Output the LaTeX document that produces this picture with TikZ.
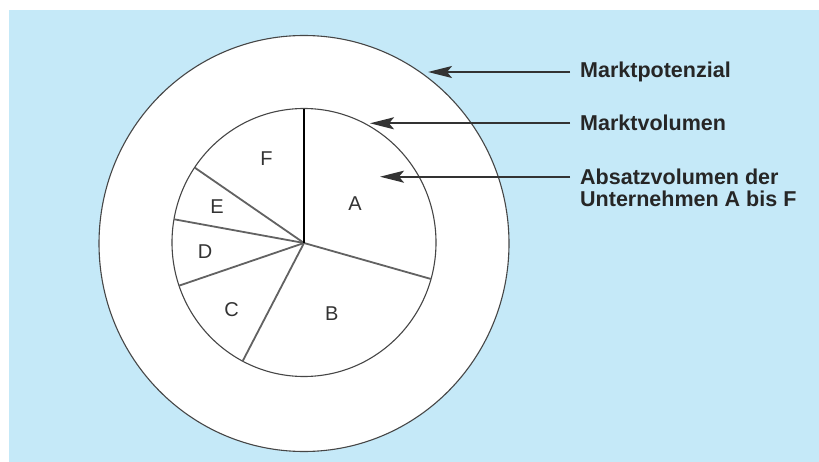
\documentclass[tikz,border=0pt]{standalone}
\usepackage{fontspec}
\setmainfont{Liberation Sans}
\usetikzlibrary{arrows.meta,calc}
\definecolor{bgblue}{RGB}{197,233,248}
\definecolor{linegray}{RGB}{70,70,70}
\tikzset{
  ring/.style={draw=linegray,line width=1.1pt,fill=white},
  spoke/.style={draw=linegray!85,line width=1.8pt},
  mainspoke/.style={draw=black,line width=1.2pt},
  seglabel/.style={inner sep=0pt,text=black!80,font=\fontsize{20}{22}\selectfont},
  sidelabel/.style={inner sep=0pt,anchor=west,align=left,text=black!85,font=\bfseries\fontsize{21.5}{21.5}\selectfont},
  pointer/.style={draw=black!80,line width=2pt,-{Stealth[length=24pt,width=12pt,inset=5pt]}}
}
\begin{document}
\begin{tikzpicture}[x=1pt,y=-1pt]
\useasboundingbox (0,0) rectangle (819,462);
\fill[bgblue] (9,10) rectangle (819,462);
% outer and inner circles
\draw[ring] (304,243.5) ellipse [x radius=205pt, y radius=208pt];
\draw[ring] (304,242.5) ellipse [x radius=132pt, y radius=134pt];
\coordinate (c) at (304,243);
\coordinate (pAF) at ($(c)+(90:132pt and 134pt)$);
\coordinate (pAB) at ($(c)+(-15.6:132pt and 134pt)$);
\coordinate (pBC) at ($(c)+(242.2:132pt and 134pt)$);
\coordinate (pCD) at ($(c)+(198.6:132pt and 134pt)$);
\coordinate (pDE) at ($(c)+(169.8:132pt and 134pt)$);
\coordinate (pEF) at ($(c)+(145.8:132pt and 134pt)$);
\draw[spoke] (c) -- (pAB);
\draw[spoke] (c) -- (pBC);
\draw[spoke] (c) -- (pCD);
\draw[spoke] (c) -- (pDE);
\draw[spoke] (c) -- (pEF);
\draw[mainspoke] (c) -- (pAF);
% segment labels
\node[seglabel] (lA) at (355,203.3) {A};
\node[seglabel] (lB) at (331.7,313.3) {B};
\node[seglabel] (lC) at (231.5,310) {C};
\node[seglabel] (lD) at (205,251.7) {D};
\node[seglabel] (lE) at (217,206.5) {E};
\node[seglabel] (lF) at (266.5,159) {F};
% side labels
\node[sidelabel] (mp) at (580,72) {Marktpotenzial};
\node[sidelabel] (mv) at (580,123.3) {Marktvolumen};
\node[sidelabel,anchor=north west] (av) at (580,169) {Absatzvolumen der\\Unternehmen A bis F};
% pointer tips and starts
\coordinate (t1) at (428,72);
\coordinate (t2) at (370,123.3);
\coordinate (t3) at (380,176.7);
\coordinate (s3) at (570,176.7);
\draw[pointer] ([xshift=-10pt]mp.west) -- (t1);
\draw[pointer] ([xshift=-10pt]mv.west) -- (t2);
\draw[pointer] (s3) -- (t3);
\end{tikzpicture}
\end{document}
